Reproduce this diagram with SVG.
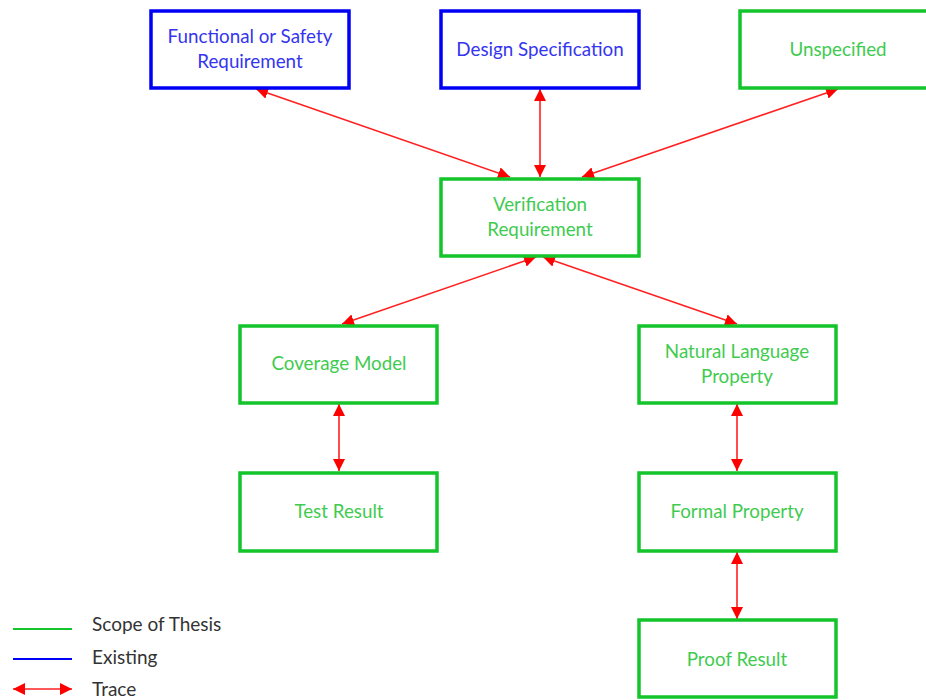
<svg xmlns="http://www.w3.org/2000/svg" width="926" height="700" viewBox="0 0 926 700">
  <style>
    .box { fill: #ffffff; stroke-width: 3.5; }
    .scope { stroke: #13C42B; }
    .existing { stroke: #0000F5; }
    .lbl { font-family: Lato, "Open Sans", "Liberation Sans", sans-serif; font-size: 18.8px; text-anchor: middle; }
    .g { fill: #3FCB50; }
    .b { fill: #3535F0; }
    .trace { stroke: #FF2020; stroke-width: 1.6; fill: none; marker-start: url(#ah); marker-end: url(#ah); }
    .legend { font-family: Lato, "Open Sans", "Liberation Sans", sans-serif; font-size: 19px; fill: #333333; }
  </style>
  <defs>
    <marker id="ah" viewBox="0 0 12 12" refX="12" refY="6" markerWidth="12" markerHeight="12" markerUnits="userSpaceOnUse" orient="auto-start-reverse">
      <path d="M0,0 L12,6 L0,12 Z" fill="#FF0000"/>
    </marker>
  </defs>
  <rect width="926" height="700" fill="#ffffff"/>

  <!-- trace connectors -->
  <g id="connectors">
    <line class="trace" x1="256" y1="89" x2="510" y2="177"/>
    <line class="trace" x1="540" y1="89" x2="540" y2="177"/>
    <line class="trace" x1="838" y1="89" x2="582" y2="177"/>
    <line class="trace" x1="536" y1="257" x2="342" y2="324"/>
    <line class="trace" x1="543" y1="257" x2="737" y2="324"/>
    <line class="trace" x1="339" y1="404" x2="339" y2="471"/>
    <line class="trace" x1="737" y1="404" x2="737" y2="471"/>
    <line class="trace" x1="737" y1="552" x2="737" y2="619"/>
  </g>

  <g id="functional-safety">
    <rect class="box existing" x="151" y="11" width="198" height="77"/>
    <text class="lbl b" x="250" y="43">Functional or Safety</text>
    <text class="lbl b" x="250" y="68">Requirement</text>
  </g>
  <g id="design-spec">
    <rect class="box existing" x="441" y="11" width="198" height="77"/>
    <text class="lbl b" x="540" y="56">Design Specification</text>
  </g>
  <g id="unspecified">
    <rect class="box scope" x="740" y="11" width="198" height="77"/>
    <text class="lbl g" x="838" y="56">Unspecified</text>
  </g>
  <g id="verification-req">
    <rect class="box scope" x="441" y="179" width="198" height="77"/>
    <text class="lbl g" x="540" y="211">Verification</text>
    <text class="lbl g" x="540" y="236">Requirement</text>
  </g>
  <g id="coverage-model">
    <rect class="box scope" x="240" y="326" width="197" height="77"/>
    <text class="lbl g" x="339" y="370">Coverage Model</text>
  </g>
  <g id="nl-property">
    <rect class="box scope" x="639" y="326" width="197" height="77"/>
    <text class="lbl g" x="737" y="358">Natural Language</text>
    <text class="lbl g" x="737" y="383">Property</text>
  </g>
  <g id="test-result">
    <rect class="box scope" x="240" y="473" width="197" height="78"/>
    <text class="lbl g" x="339" y="518">Test Result</text>
  </g>
  <g id="formal-property">
    <rect class="box scope" x="639" y="473" width="197" height="78"/>
    <text class="lbl g" x="737" y="518">Formal Property</text>
  </g>
  <g id="proof-result">
    <rect class="box scope" x="639" y="620" width="197" height="77"/>
    <text class="lbl g" x="737" y="666">Proof Result</text>
  </g>

  <!-- legend -->
  <g id="legend">
    <line x1="13" y1="629" x2="72" y2="629" stroke="#13C42B" stroke-width="2"/>
    <line x1="13" y1="659" x2="72" y2="659" stroke="#0000F5" stroke-width="2"/>
    <line class="trace" x1="13" y1="689" x2="72" y2="689"/>
    <text class="legend" x="92" y="631">Scope of Thesis</text>
    <text class="legend" x="92" y="664">Existing</text>
    <text class="legend" x="92" y="696">Trace</text>
  </g>
</svg>
